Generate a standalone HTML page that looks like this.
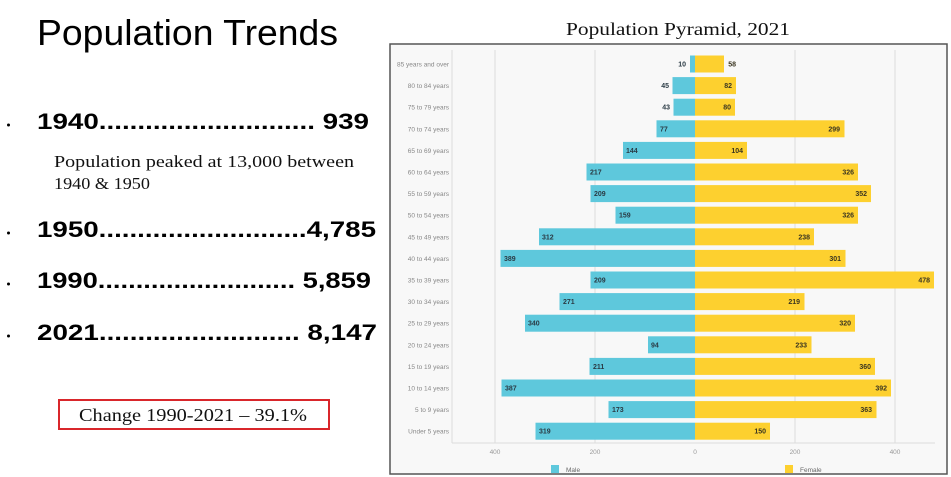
<!DOCTYPE html>
<html><head><meta charset="utf-8"><style>
html,body{margin:0;padding:0;background:#fff;}
svg{display:block;}
</style></head><body>
<svg width="951" height="477" viewBox="0 0 951 477" xmlns="http://www.w3.org/2000/svg">
<rect width="951" height="477" fill="#fff"/>
<text x="37" y="45" font-family="Liberation Sans, sans-serif" font-size="36" fill="#000" textLength="301" lengthAdjust="spacingAndGlyphs">Population Trends</text>
<g fill="#000">
<circle cx="8.5" cy="125" r="1.5"/>
<circle cx="8.5" cy="233" r="1.5"/>
<circle cx="8.5" cy="284" r="1.5"/>
<circle cx="8.5" cy="336" r="1.5"/>
</g>
<g font-family="Liberation Sans, sans-serif" font-weight="bold" font-size="22" fill="#000">
<text x="37" y="129" textLength="332" lengthAdjust="spacingAndGlyphs">1940............................ 939</text>
<text x="37" y="237" textLength="339" lengthAdjust="spacingAndGlyphs">1950...........................4,785</text>
<text x="37" y="288" textLength="334" lengthAdjust="spacingAndGlyphs">1990.......................... 5,859</text>
<text x="37" y="340" textLength="340" lengthAdjust="spacingAndGlyphs">2021.......................... 8,147</text>
</g>
<g font-family="Liberation Serif, serif" font-size="17" fill="#111">
<text x="54" y="167" textLength="300" lengthAdjust="spacingAndGlyphs">Population peaked at 13,000 between</text>
<text x="54" y="189" textLength="96" lengthAdjust="spacingAndGlyphs">1940 &amp; 1950</text>
</g>
<rect x="59" y="400" width="270" height="29" fill="none" stroke="#d9262b" stroke-width="2"/>
<text x="79" y="421" font-family="Liberation Serif, serif" font-size="18" fill="#111" textLength="228" lengthAdjust="spacingAndGlyphs">Change 1990-2021 – 39.1%</text>

<text x="678" y="35" text-anchor="middle" font-family="Liberation Serif, serif" font-size="18" fill="#111" textLength="224" lengthAdjust="spacingAndGlyphs">Population Pyramid, 2021</text>
<rect x="390" y="44" width="557" height="430" fill="#f8f8f8" stroke="#555" stroke-width="1.5"/>
<g stroke="#dcdcdc" stroke-width="1">
<line x1="495" y1="50" x2="495" y2="443"/>
<line x1="595" y1="50" x2="595" y2="443"/>
<line x1="795" y1="50" x2="795" y2="443"/>
<line x1="895" y1="50" x2="895" y2="443"/>
<line x1="452" y1="50" x2="452" y2="443"/>
<line x1="452" y1="443" x2="935" y2="443"/>
</g>
<g font-family="Liberation Sans, sans-serif" font-size="6.5" fill="#888" text-anchor="end">
<text x="449" y="66.5">85 years and over</text>
<text x="449" y="88">80 to 84 years</text>
<text x="449" y="109.7">75 to 79 years</text>
<text x="449" y="131.3">70 to 74 years</text>
<text x="449" y="152.9">65 to 69 years</text>
<text x="449" y="174.5">60 to 64 years</text>
<text x="449" y="196.1">55 to 59 years</text>
<text x="449" y="217.7">50 to 54 years</text>
<text x="449" y="239.3">45 to 49 years</text>
<text x="449" y="260.9">40 to 44 years</text>
<text x="449" y="282.5">35 to 39 years</text>
<text x="449" y="304.1">30 to 34 years</text>
<text x="449" y="325.7">25 to 29 years</text>
<text x="449" y="347.3">20 to 24 years</text>
<text x="449" y="368.9">15 to 19 years</text>
<text x="449" y="390.5">10 to 14 years</text>
<text x="449" y="412.1">5 to 9 years</text>
<text x="449" y="433.7">Under 5 years</text>
</g>
<g fill="#5ec8dc">
<rect x="690" y="55.5" width="5" height="17"/>
<rect x="672.5" y="77.1" width="22.5" height="17"/>
<rect x="673.5" y="98.7" width="21.5" height="17"/>
<rect x="656.5" y="120.3" width="38.5" height="17"/>
<rect x="623" y="141.9" width="72" height="17"/>
<rect x="586.5" y="163.5" width="108.5" height="17"/>
<rect x="590.5" y="185.1" width="104.5" height="17"/>
<rect x="615.5" y="206.7" width="79.5" height="17"/>
<rect x="539" y="228.3" width="156" height="17"/>
<rect x="500.5" y="249.9" width="194.5" height="17"/>
<rect x="590.5" y="271.5" width="104.5" height="17"/>
<rect x="559.5" y="293.1" width="135.5" height="17"/>
<rect x="525" y="314.7" width="170" height="17"/>
<rect x="648" y="336.3" width="47" height="17"/>
<rect x="589.5" y="357.9" width="105.5" height="17"/>
<rect x="501.5" y="379.5" width="193.5" height="17"/>
<rect x="608.5" y="401.1" width="86.5" height="17"/>
<rect x="535.5" y="422.7" width="159.5" height="17"/>
</g>
<g fill="#fdd02f">
<rect x="695" y="55.5" width="29" height="17"/>
<rect x="695" y="77.1" width="41" height="17"/>
<rect x="695" y="98.7" width="40" height="17"/>
<rect x="695" y="120.3" width="149.5" height="17"/>
<rect x="695" y="141.9" width="52" height="17"/>
<rect x="695" y="163.5" width="163" height="17"/>
<rect x="695" y="185.1" width="176" height="17"/>
<rect x="695" y="206.7" width="163" height="17"/>
<rect x="695" y="228.3" width="119" height="17"/>
<rect x="695" y="249.9" width="150.5" height="17"/>
<rect x="695" y="271.5" width="239" height="17"/>
<rect x="695" y="293.1" width="109.5" height="17"/>
<rect x="695" y="314.7" width="160" height="17"/>
<rect x="695" y="336.3" width="116.5" height="17"/>
<rect x="695" y="357.9" width="180" height="17"/>
<rect x="695" y="379.5" width="196" height="17"/>
<rect x="695" y="401.1" width="181.5" height="17"/>
<rect x="695" y="422.7" width="75" height="17"/>
</g>
<g font-family="Liberation Sans, sans-serif" font-size="7" font-weight="bold" fill="#2a3a44">
<text x="686" y="66.5" text-anchor="end">10</text>
<text x="669" y="88" text-anchor="end">45</text>
<text x="670" y="109.7" text-anchor="end">43</text>
<text x="660" y="131.3">77</text>
<text x="626" y="152.9">144</text>
<text x="590" y="174.5">217</text>
<text x="594" y="196.1">209</text>
<text x="619" y="217.7">159</text>
<text x="542" y="239.3">312</text>
<text x="504" y="260.9">389</text>
<text x="594" y="282.5">209</text>
<text x="563" y="304.1">271</text>
<text x="528" y="325.7">340</text>
<text x="651" y="347.3">94</text>
<text x="593" y="368.9">211</text>
<text x="505" y="390.5">387</text>
<text x="612" y="412.1">173</text>
<text x="539" y="433.7">319</text>
</g>
<g font-family="Liberation Sans, sans-serif" font-size="7" font-weight="bold" fill="#3a3520" text-anchor="end">
<text x="736" y="66.5">58</text>
<text x="732" y="88">82</text>
<text x="731" y="109.7">80</text>
<text x="840" y="131.3">299</text>
<text x="743" y="152.9">104</text>
<text x="854" y="174.5">326</text>
<text x="867" y="196.1">352</text>
<text x="854" y="217.7">326</text>
<text x="810" y="239.3">238</text>
<text x="841" y="260.9">301</text>
<text x="930" y="282.5">478</text>
<text x="800" y="304.1">219</text>
<text x="851" y="325.7">320</text>
<text x="807" y="347.3">233</text>
<text x="871" y="368.9">360</text>
<text x="887" y="390.5">392</text>
<text x="872" y="412.1">363</text>
<text x="766" y="433.7">150</text>
</g>
<g font-family="Liberation Sans, sans-serif" font-size="6.5" fill="#999" text-anchor="middle">
<text x="495" y="454">400</text>
<text x="595" y="454">200</text>
<text x="695" y="454">0</text>
<text x="795" y="454">200</text>
<text x="895" y="454">400</text>
</g>
<rect x="551" y="465" width="8" height="8" fill="#5ec8dc"/>
<text x="566" y="472" font-family="Liberation Sans, sans-serif" font-size="6.5" fill="#666">Male</text>
<rect x="785" y="465" width="8" height="8" fill="#fdd02f"/>
<text x="800" y="472" font-family="Liberation Sans, sans-serif" font-size="6.5" fill="#666">Female</text>
</svg>
</body></html>
